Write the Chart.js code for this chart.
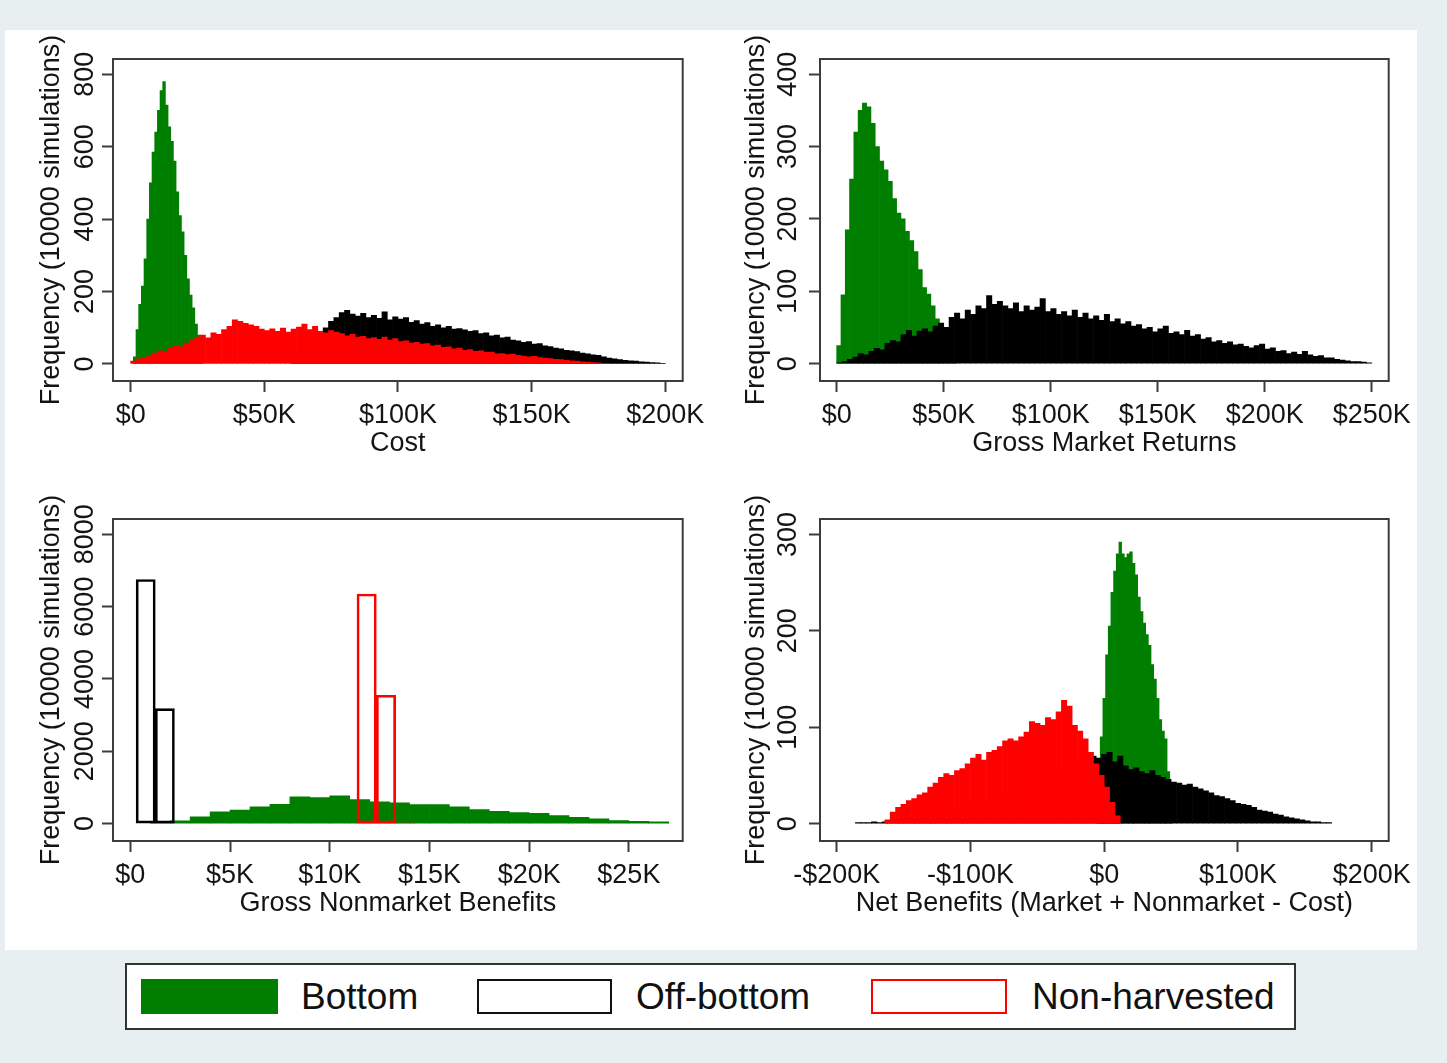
<!DOCTYPE html>
<html>
<head>
<meta charset="utf-8">
<title>Histograms by harvest method</title>
<script src="https://cdn.jsdelivr.net/npm/chart.js@4.4.0/dist/chart.umd.min.js"></script>
<style>
  html, body { margin: 0; padding: 0; }
  body {
    width: 1447px; height: 1063px; position: relative; overflow: hidden;
    background: #e8eff1;
    font-family: "Liberation Sans", Arial, sans-serif;
  }
  #plotArea { position: absolute; left: 5px; top: 30px; width: 1412px; height: 920px; background: #fff; }
  canvas { position: absolute; }
  #legend {
    position: absolute; left: 125px; top: 963px; width: 1167px; height: 63px;
    border: 2px solid #333; background: #fff;
  }
  .swatch { position: absolute; top: 14px; height: 35px; box-sizing: border-box; }
  .label { position: absolute; top: 0; font-size: 37px; line-height: 63px; color: #111; }
</style>
</head>
<body>
<div id="plotArea"></div>
<canvas id="costChart" width="715" height="440" style="left:5px;top:30px"></canvas>
<canvas id="marketChart" width="717" height="440" style="left:710px;top:30px"></canvas>
<canvas id="nonmarketChart" width="715" height="440" style="left:5px;top:490px"></canvas>
<canvas id="netChart" width="717" height="440" style="left:710px;top:490px"></canvas>

<div id="legend">
  <div class="swatch" style="left:14px;width:137px;background:#007e00"></div>
  <div class="label" style="left:174px">Bottom</div>
  <div class="swatch" style="left:350px;width:135px;border:2px solid #111;background:#fff"></div>
  <div class="label" style="left:509px">Off-bottom</div>
  <div class="swatch" style="left:744px;width:136px;border:2px solid #ff0000;background:#fff"></div>
  <div class="label" style="left:905px">Non-harvested</div>
</div>

<script>
'use strict';

// ---- data (dollar amounts in $K, counts out of 10000 simulations) ----
// each histogram: [left edge of first bin, bin width], then the bin counts

// Cost
const costBottomBin = [1, 1];
const costBottom = [20, 95, 165, 215, 290, 400, 500, 585, 640, 700, 755, 780, 715, 655, 615, 560,
  475, 410, 365, 300, 235, 190, 155, 110, 80, 10];
const costOffBin = [60, 2];
const costOff = [8, 20, 32, 45, 60, 78, 100, 118, 128, 142, 148, 138, 132, 140, 128, 134, 126, 144,
  122, 130, 124, 128, 115, 120, 110, 114, 104, 108, 100, 104, 96, 98, 94, 90, 92, 84, 86, 78, 80,
  72, 74, 66, 64, 60, 62, 55, 56, 50, 48, 44, 42, 38, 36, 34, 30, 28, 25, 24, 20, 16, 14, 12, 10,
  9, 8, 6, 5, 4, 3, 2];
const costNonBin = [0, 2];
const costNon = [8, 14, 18, 24, 30, 36, 33, 44, 50, 47, 58, 66, 74, 80, 72, 86, 82, 95, 104, 122,
  118, 112, 108, 104, 96, 92, 97, 90, 99, 88, 96, 102, 110, 95, 104, 90, 86, 92, 88, 84, 78, 82,
  74, 76, 70, 73, 68, 74, 66, 70, 62, 64, 58, 60, 55, 56, 50, 52, 46, 47, 42, 44, 38, 40, 35, 36,
  32, 33, 28, 29, 26, 27, 24, 22, 20, 21, 18, 16, 15, 13, 12, 10, 9, 8, 6, 5, 4, 3, 1];
const costXTicks = [0, 50, 100, 150, 200];
const costXLabels = ['$0', '$50K', '$100K', '$150K', '$200K'];
const costYTicks = [0, 200, 400, 600, 800];

// Gross market returns
const marketBottomBin = [0, 2];
const marketBottom = [25, 95, 185, 255, 320, 350, 360, 355, 332, 300, 280, 268, 252, 228, 208,
  200, 183, 170, 155, 130, 105, 96, 80, 62, 35, 10, 4, 2];
const marketOffBin = [0, 2.5];
const marketOff = [1, 3, 6, 9, 14, 12, 17, 21, 19, 28, 32, 30, 40, 46, 38, 45, 48, 44, 52, 56,
  50, 64, 70, 62, 74, 68, 80, 76, 94, 82, 86, 80, 76, 84, 72, 80, 74, 78, 90, 72, 76, 68, 72, 66,
  74, 64, 70, 62, 66, 60, 68, 58, 62, 55, 58, 52, 54, 48, 50, 44, 48, 52, 42, 44, 40, 46, 38, 40,
  34, 36, 30, 32, 28, 30, 26, 27, 24, 22, 25, 27, 20, 22, 17, 18, 14, 16, 13, 17, 12, 10, 11, 8,
  8, 6, 5, 4, 3, 3, 2, 1];
const marketXTicks = [0, 50, 100, 150, 200, 250];
const marketXLabels = ['$0', '$50K', '$100K', '$150K', '$200K', '$250K'];
const marketYTicks = [0, 100, 200, 300, 400];

// Gross nonmarket benefits
const nonmarketBottomBin = [1, 1];
const nonmarketBottom = [25, 75, 185, 325, 370, 460, 535, 740, 720, 770, 665, 600, 575, 525, 525,
  460, 390, 340, 305, 280, 220, 175, 130, 85, 65, 45];
const nonmarketOffBin = [0.29, 0.96];
const nonmarketOff = [6750, 3180];
const nonmarketNonBin = [11.365, 0.97];
const nonmarketNon = [6350, 3550, 20];
const nonmarketXTicks = [0, 5, 10, 15, 20, 25];
const nonmarketXLabels = ['$0', '$5K', '$10K', '$15K', '$20K', '$25K'];
const nonmarketYTicks = [0, 2000, 4000, 6000, 8000];

// Net benefits
const netBottomBin = [-5, 2];
const netBottom = [12, 90, 130, 175, 205, 240, 262, 280, 292, 280, 276, 280, 282, 270, 258, 235,
  220, 208, 196, 185, 165, 150, 130, 108, 96, 88, 54, 22];
const netOffBin = [-186, 4];
const netOff = [1, 1, 1, 2, 1, 2, 3, 4, 5, 6, 7, 8, 9, 10, 11, 12, 13, 14, 16, 17, 18, 20, 21, 23,
  24, 26, 28, 30, 31, 33, 35, 37, 39, 41, 43, 45, 47, 50, 52, 55, 58, 60, 62, 65, 70, 68, 72, 74,
  64, 70, 60, 56, 58, 54, 52, 55, 50, 48, 46, 43, 42, 40, 41, 38, 36, 34, 32, 29, 28, 26, 24, 21,
  20, 19, 17, 14, 13, 12, 10, 9, 7, 6, 5, 4, 3, 2, 2, 1, 1];
const netNonBin = [-164, 4];
const netNon = [4, 12, 17, 20, 24, 26, 30, 32, 38, 42, 48, 52, 50, 55, 57, 62, 68, 72, 66, 74, 76,
  80, 86, 88, 86, 90, 95, 106, 104, 102, 110, 108, 116, 128, 122, 102, 96, 88, 74, 62, 50, 38, 22, 8];
const netXTicks = [-200, -100, 0, 100, 200];
const netXLabels = ['-$200K', '-$100K', '$0', '$100K', '$200K'];
const netYTicks = [0, 100, 200, 300];

// ---- drawing ----
const FONT = '"Liberation Sans", Arial, sans-serif';
const TEXT = '#141414';
const AXIS = '#3c3c3c';
const GREEN = '#007e00';
const RED = '#ff0000';
const BLACK = '#000000';

// frame round the plot region, and the upright y tick labels
const framePlugin = {
  id: 'frame',
  afterDraw(chart, args, opts) {
    const { ctx, chartArea: a } = chart;
    const yScale = chart.scales.y;
    ctx.save();
    ctx.strokeStyle = AXIS;
    ctx.lineWidth = 2;
    ctx.strokeRect(a.left, a.top, a.right - a.left, a.bottom - a.top);
    ctx.fillStyle = TEXT;
    ctx.font = '27px ' + FONT;
    ctx.textAlign = 'center';
    ctx.textBaseline = 'alphabetic';
    yScale.ticks.forEach((t, i) => {
      ctx.save();
      ctx.translate(opts.labelX, yScale.getPixelForTick(i));
      ctx.rotate(-Math.PI / 2);
      ctx.fillText(String(t.value), 0, 0);
      ctx.restore();
    });
    ctx.restore();
  }
};

function binCentres(bin, counts) {
  return counts.map((c, i) => ({ x: bin[0] + bin[1] * (i + 0.5), y: c }));
}

function histChart(id, p) {
  const scales = {
    x: {
      type: 'linear', position: 'bottom', min: p.xMin, max: p.xMax, offset: false,
      afterBuildTicks: s => { s.ticks = p.xTicks.map(v => ({ value: v })); },
      afterFit: s => { s.height = 89; },
      border: { display: false },
      grid: { offset: false, drawOnChartArea: false, drawTicks: true, tickLength: 11, tickColor: AXIS, tickWidth: 2 },
      ticks: {
        padding: 7.5, color: TEXT, font: { size: 27, family: FONT }, maxRotation: 0,
        callback: (v, i) => p.xLabels[i]
      },
      title: { display: true, text: p.xTitle, color: TEXT, font: { size: 27, family: FONT }, padding: { top: 0, bottom: 10.3 } }
    },
    y: {
      type: 'linear', position: 'left', min: p.yMin, max: p.yMax,
      afterBuildTicks: s => { s.ticks = p.yTicks.map(v => ({ value: v })); },
      afterFit: s => { s.width = p.yWidth; },
      border: { display: false },
      grid: { drawOnChartArea: false, drawTicks: true, tickLength: 11, tickColor: AXIS, tickWidth: 2 },
      ticks: { display: false },
      title: {
        display: true, text: 'Frequency (10000 simulations)', color: TEXT,
        font: { size: 27, family: FONT }, padding: { top: 30.4, bottom: 0 }
      }
    }
  };

  const datasets = p.series.map((s, i) => {
    scales['xs' + i] = {
      type: 'linear', axis: 'x', position: 'bottom', display: false,
      min: p.xMin, max: p.xMax, offset: false, grid: { offset: false }
    };
    return {
      label: s.label,
      data: binCentres(s.bin, s.counts),
      xAxisID: 'xs' + i,
      yAxisID: 'y',
      order: s.order,
      grouped: false,
      barPercentage: 1,
      categoryPercentage: 1,
      backgroundColor: s.hollow ? 'rgba(0,0,0,0)' : s.color,
      borderColor: s.color,
      borderWidth: s.hollow ? 2 : 0,
      borderSkipped: false
    };
  });

  return new Chart(document.getElementById(id), {
    type: 'bar',
    data: { datasets },
    options: {
      responsive: false,
      animation: false,
      devicePixelRatio: 1,
      events: [],
      layout: { padding: { left: 0, top: 29, right: p.padRight, bottom: 0 } },
      scales,
      plugins: { legend: { display: false }, tooltip: { enabled: false }, frame: { labelX: p.labelX } }
    },
    plugins: [framePlugin]
  });
}

histChart('costChart', {
  xMin: -6.6, xMax: 206.5, yMin: -47, yMax: 842,
  xTicks: costXTicks, xLabels: costXLabels, yTicks: costYTicks, xTitle: 'Cost',
  yWidth: 108, padRight: 37.3, labelX: 87.5,
  series: [
    { label: 'Bottom', bin: costBottomBin, counts: costBottom, color: GREEN, order: 2 },
    { label: 'Off-bottom', bin: costOffBin, counts: costOff, color: BLACK, order: 1 },
    { label: 'Non-harvested', bin: costNonBin, counts: costNon, color: RED, order: 0 }
  ]
});

histChart('marketChart', {
  xMin: -7.8, xMax: 257.9, yMin: -24, yMax: 421,
  xTicks: marketXTicks, xLabels: marketXLabels, yTicks: marketYTicks, xTitle: 'Gross Market Returns',
  yWidth: 110, padRight: 38.3, labelX: 86,
  series: [
    { label: 'Bottom', bin: marketBottomBin, counts: marketBottom, color: GREEN, order: 2 },
    { label: 'Off-bottom', bin: marketOffBin, counts: marketOff, color: BLACK, order: 1 }
  ]
});

histChart('nonmarketChart', {
  xMin: -0.87, xMax: 27.7, yMin: -482, yMax: 8424,
  xTicks: nonmarketXTicks, xLabels: nonmarketXLabels, yTicks: nonmarketYTicks, xTitle: 'Gross Nonmarket Benefits',
  yWidth: 108, padRight: 37.3, labelX: 87.5,
  series: [
    { label: 'Bottom', bin: nonmarketBottomBin, counts: nonmarketBottom, color: GREEN, order: 2 },
    { label: 'Off-bottom', bin: nonmarketOffBin, counts: nonmarketOff, color: BLACK, order: 1, hollow: true },
    { label: 'Non-harvested', bin: nonmarketNonBin, counts: nonmarketNon, color: RED, order: 0, hollow: true }
  ]
});

histChart('netChart', {
  xMin: -212.5, xMax: 212.7, yMin: -18, yMax: 316,
  xTicks: netXTicks, xLabels: netXLabels, yTicks: netYTicks, xTitle: 'Net Benefits (Market + Nonmarket - Cost)',
  yWidth: 110, padRight: 38.3, labelX: 86,
  series: [
    { label: 'Bottom', bin: netBottomBin, counts: netBottom, color: GREEN, order: 2 },
    { label: 'Off-bottom', bin: netOffBin, counts: netOff, color: BLACK, order: 1 },
    { label: 'Non-harvested', bin: netNonBin, counts: netNon, color: RED, order: 0 }
  ]
});
</script>
</body>
</html>
